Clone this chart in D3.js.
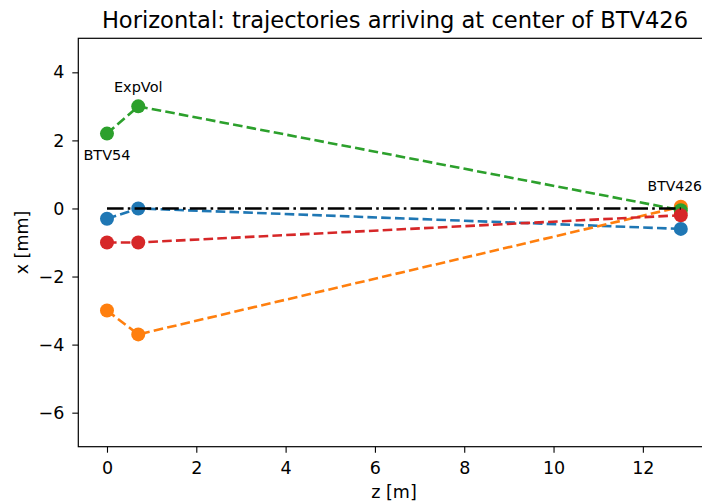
<!DOCTYPE html>
<html>
<head>
<meta charset="utf-8">
<script src="https://cdn.jsdelivr.net/npm/d3@7"></script>
<style>
  body { margin: 0; background: #fff; }
  svg { font-family: "DejaVu Sans", sans-serif; }
</style>
</head>
<body>
<div id="chart"></div>
<script>
// positions along the beam line [m]
var zPositions = [0, 0.7, 12.85];
var stationNames = ["BTV54", "ExpVol", "BTV426"];

// horizontal offset of each trajectory [mm]
var trajBlue = [-0.3, 0.0, -0.6];
var trajOrange = [-3.0, -3.7, 0.05];
var trajGreen = [2.2, 3.0, -0.05];
var trajRed = [-1.0, -1.0, -0.2];
var referenceLine = [0, 0];

var xTicks = [0, 2, 4, 6, 8, 10, 12];
var yTicks = [-6, -4, -2, 0, 2, 4];

var series = [
    {vals: trajBlue, color: "#1f77b4"},
    {vals: trajOrange, color: "#ff7f0e"},
    {vals: trajGreen, color: "#2ca02c"},
    {vals: trajRed, color: "#d62728"}
];

var W = 702, H = 503;
var margin = {top: 38.3, left: 78.3};
var plotW = 631.2, plotH = 408.4;

var svg = d3.select("#chart").append("svg")
    .attr("width", W)
    .attr("height", H);

// matplotlib style 5% margins on x
var zMin = d3.min(zPositions), zMax = d3.max(zPositions);
var pad = (zMax - zMin) * 0.05;
var xScale = d3.scaleLinear()
    .domain([zMin - pad, zMax + pad])
    .range([margin.left, margin.left + plotW]);
var yScale = d3.scaleLinear()
    .domain([-7, 5])
    .range([margin.top + plotH, margin.top]);

// --- AXES --- //
var xAxis = svg.append("g")
    .attr("transform", "translate(0," + (margin.top + plotH) + ")")
    .call(d3.axisBottom(xScale).tickValues(xTicks).tickSize(6).tickPadding(9)
        .tickFormat(d3.format("d")));
var yAxis = svg.append("g")
    .attr("transform", "translate(" + margin.left + ",0)")
    .call(d3.axisLeft(yScale).tickValues(yTicks).tickSize(6).tickPadding(8)
        .tickFormat(function(d){ return d < 0 ? "\u2212" + Math.abs(d) : d; }));

[xAxis, yAxis].forEach(function(ax){
    ax.select(".domain").remove();
    ax.selectAll(".tick line").attr("stroke", "#000").attr("stroke-width", 1.1);
    ax.selectAll(".tick text").attr("fill", "#000")
        .attr("font-size", "17.5px")
        .attr("font-family", "DejaVu Sans, sans-serif");
});

// frame
svg.append("rect")
    .attr("x", margin.left)
    .attr("y", margin.top)
    .attr("width", plotW)
    .attr("height", plotH)
    .attr("fill", "none")
    .attr("stroke", "#000")
    .attr("stroke-width", 1.2);

// --- LINES --- //
var plot = svg.append("g");

var line = d3.line()
    .x(function(d, i){ return xScale(zPositions[i]); })
    .y(function(d){ return yScale(d); });

series.forEach(function(s){
    plot.append("path")
        .datum(s.vals)
        .attr("fill", "none")
        .attr("stroke", s.color)
        .attr("stroke-width", 2.6)
        .attr("stroke-dasharray", "9.6,4.2")
        .attr("d", line);
    plot.selectAll(null)
        .data(s.vals)
        .enter()
        .append("circle")
        .attr("cx", function(d, i){ return xScale(zPositions[i]); })
        .attr("cy", function(d){ return yScale(d); })
        .attr("r", 7)
        .attr("fill", s.color);
});

// reference trajectory (dash-dot)
plot.append("path")
    .datum(referenceLine)
    .attr("fill", "none")
    .attr("stroke", "#000")
    .attr("stroke-width", 2.6)
    .attr("stroke-dasharray", "16.6,4.2,2.6,4.2")
    .attr("d", d3.line()
        .x(function(d, i){ return xScale(i === 0 ? zPositions[0] : zPositions[2]); })
        .y(function(d){ return yScale(d); }));

// station labels
var labelAnchor = [trajGreen[0], trajGreen[1], 0];
plot.selectAll(".station")
    .data(stationNames)
    .enter()
    .append("text")
    .attr("class", "station")
    .attr("x", function(d, i){ return i === 2 ? W : xScale(zPositions[i]); })
    .attr("y", function(d, i){ return yScale(labelAnchor[i]) + [26.4, -14.7, -17.5][i]; })
    .attr("text-anchor", function(d, i){ return i === 2 ? "end" : "middle"; })
    .attr("font-size", function(d, i){ return i === 2 ? "14px" : "14.5px"; })
    .attr("fill", "#000")
    .text(function(d){ return d; });

// --- LABELS --- //
svg.append("text")
    .attr("x", 395)
    .attr("y", 28)
    .attr("text-anchor", "middle")
    .attr("font-size", "22.6px")
    .attr("fill", "#000")
    .text("Horizontal: trajectories arriving at center of BTV426");

svg.append("text")
    .attr("x", 394)
    .attr("y", 498)
    .attr("text-anchor", "middle")
    .attr("font-size", "17.5px")
    .attr("fill", "#000")
    .text("z [m]");

svg.append("text")
    .attr("transform", "translate(28," + (margin.top + plotH / 2) + ") rotate(-90)")
    .attr("text-anchor", "middle")
    .attr("font-size", "17.5px")
    .attr("fill", "#000")
    .text("x [mm]");
</script>
</body>
</html>
